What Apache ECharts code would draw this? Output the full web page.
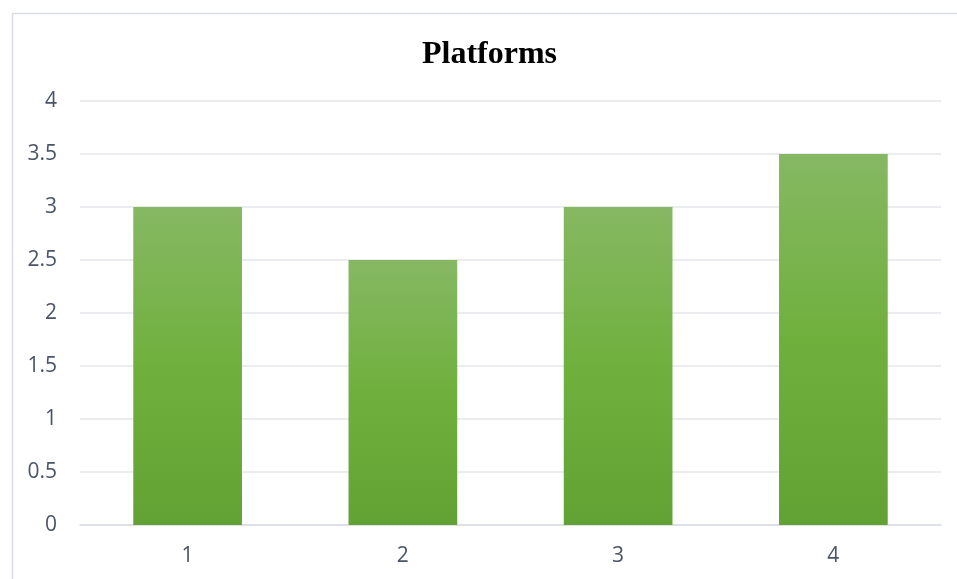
<!DOCTYPE html>
<html><head><meta charset="utf-8">
<script src="https://cdn.jsdelivr.net/npm/echarts@6/dist/echarts.min.js"></script>
<style>html,body{margin:0;padding:0;background:#fff}#c{width:957px;height:579px}</style>
</head><body><div id="c"></div>
<script>
const categories = ['1', '2', '3', '4'];
const values = [3, 2.5, 3, 3.5];
const yTicks = { min: 0, max: 4, interval: 0.5 };

const chart = echarts.init(document.getElementById('c'));
chart.setOption({
  animation: false,
  backgroundColor: '#fff',
  graphic: [{
    type: 'rect', left: 10, top: 11, silent: true,
    shape: { width: 1000, height: 600 },
    style: { fill: 'none', stroke: '#d9dde3', lineWidth: 1.5 }
  }],
  title: {
    text: 'Platforms', left: 417, top: 34,
    textStyle: { fontFamily: 'Liberation Serif', fontWeight: 'bold', fontSize: 32, color: '#000' }
  },
  grid: { left: 80, right: 16, top: 101, bottom: 54, containLabel: false },
  xAxis: {
    type: 'category', data: categories,
    axisLine: { lineStyle: { color: '#d9dde3', width: 1.5 } },
    axisTick: { show: false },
    axisLabel: { color: '#4a5568', fontSize: 21, fontFamily: 'Open Sans', margin: 21 }
  },
  yAxis: {
    type: 'value', min: yTicks.min, max: yTicks.max, interval: yTicks.interval,
    axisLine: { show: false }, axisTick: { show: false },
    splitLine: { lineStyle: { color: '#e3e6eb', width: 1.5 } },
    axisLabel: { color: '#4a5568', fontSize: 21, fontFamily: 'Open Sans', margin: 23 }
  },
  series: [{
    type: 'bar', data: values, barWidth: '50.5%',
    itemStyle: {
      color: new echarts.graphic.LinearGradient(0, 0, 0, 1, [
        { offset: 0, color: '#86b863' },
        { offset: 0.5, color: '#6fb03d' },
        { offset: 1, color: '#62a234' }
      ])
    }
  }]
});
</script></body></html>
